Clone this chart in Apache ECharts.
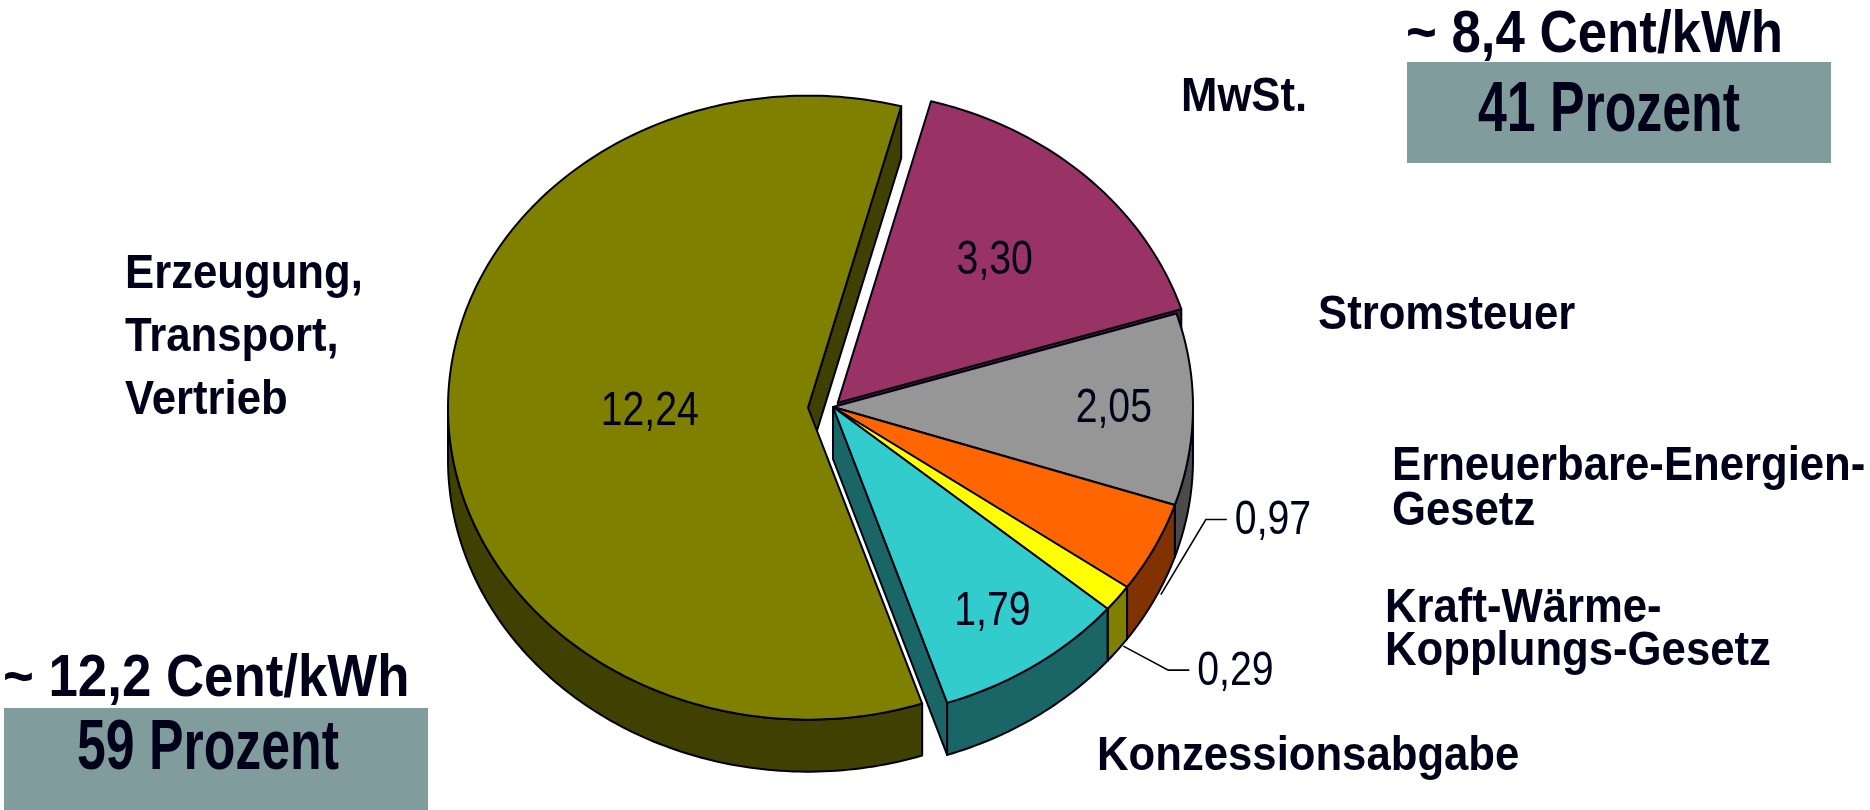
<!DOCTYPE html>
<html>
<head>
<meta charset="utf-8">
<script src="https://cdn.jsdelivr.net/npm/echarts@6/dist/echarts.min.js"></script>
<style>
html,body{margin:0;padding:0;background:#ffffff;}
#chart{width:1870px;height:810px;}
</style>
</head>
<body>
<div id="chart"></div>
<script>
// ---------- data ----------
const categories = ['MwSt.', 'Stromsteuer', 'Erneuerbare-Energien-\nGesetz', 'Kraft-Wärme-\nKopplungs-Gesetz', 'Konzessionsabgabe', 'Erzeugung,\nTransport,\nVertrieb'];
const values = [3.30, 2.05, 0.97, 0.29, 1.79, 12.24];
// which slices are taxes/levies (group 0) and which are supply costs (group 1)
const groupOf = [0, 0, 0, 0, 0, 1];
const unitLabel = 'Cent/kWh';
const percentWord = 'Prozent';

// ---------- style / layout ----------
const topColors = ['#993366', '#969696', '#FF6600', '#FFFF00', '#33CCCC', '#808000'];
const sideColors = ['#4d1a33', '#4b4b4b', '#803300', '#808000', '#1a6666', '#404000'];
const explode = [7, 0, 0, 0, 0, 25];
const labelRadius = [0.63, 0.78, null, null, 0.79, 0.44];
const outsideLabelOffset = [null, null, [45, -75], [45, 24], null, null];
const PIE = { cx: 833, cy: 407, rx: 360, ry: 312, depth: 52, startDeg: -75 };
const STROKE = '#00000f';
const TEXT = '#00001a';
const catLabelPos = [[1181, 98, 48], [1318, 316, 48], [1392, 489, 45], [1385, 630, 43], [1097, 757, 48], [125, 338, 63]];

const total = values.reduce((a, b) => a + b, 0);
const cum = [];
let acc = 0;
values.forEach(v => { cum.push(acc); acc += v; });

const fmt = (v, d) => v.toFixed(d).replace('.', ',');

function renderSlice(params, api) {
  const i = params.dataIndex;
  const v = api.value(1);
  const start = PIE.startDeg * Math.PI / 180;
  const a1 = start + cum[i] / total * 2 * Math.PI;
  const a2 = a1 + v / total * 2 * Math.PI;
  const mid = (a1 + a2) / 2;
  const ex = explode[i];
  const cx = PIE.cx + ex * Math.cos(mid);
  const cy = PIE.cy + ex * PIE.ry / PIE.rx * Math.sin(mid);
  const d = PIE.depth;
  const P = (a, k) => [cx + PIE.rx * (k || 1) * Math.cos(a), cy + PIE.ry * (k || 1) * Math.sin(a)];
  const arc = (s, e) => {
    const n = Math.max(2, Math.ceil(Math.abs(e - s) / (Math.PI / 180)));
    const out = [];
    for (let j = 0; j <= n; j++) out.push(P(s + (e - s) * j / n));
    return out;
  };
  const down = p => [p[0], p[1] + d];
  const ls = { stroke: STROKE, lineWidth: 2, lineJoin: 'round' };
  const children = [];
  if (Math.cos(a1) < 0) {
    const p = P(a1);
    children.push({ type: 'polygon', z2: 10, shape: { points: [[cx, cy], p, down(p), [cx, cy + d]] }, style: Object.assign({ fill: sideColors[i] }, ls) });
  }
  if (Math.cos(a2) > 0) {
    const p = P(a2);
    children.push({ type: 'polygon', z2: 10, shape: { points: [[cx, cy], p, down(p), [cx, cy + d]] }, style: Object.assign({ fill: sideColors[i] }, ls) });
  }
  const s = Math.max(a1, 0), e = Math.min(a2, Math.PI);
  if (e > s) {
    const top = arc(s, e);
    const bot = top.map(down).reverse();
    children.push({ type: 'polygon', z2: 20, shape: { points: top.concat(bot) }, style: Object.assign({ fill: sideColors[i] }, ls) });
  }
  children.push({ type: 'polygon', z2: 100, shape: { points: [[cx, cy]].concat(arc(a1, a2)) }, style: Object.assign({ fill: topColors[i] }, ls) });

  const valueText = fmt(v, 2);
  const textStyle = { text: valueText, fill: TEXT, fontSize: 49, fontFamily: 'Liberation Sans, Arial, sans-serif', verticalAlign: 'middle' };
  if (labelRadius[i] != null) {
    const lp = P(mid, labelRadius[i]);
    children.push({ type: 'text', z2: 200, x: lp[0], y: lp[1], scaleX: 0.8, style: Object.assign({ align: 'center' }, textStyle) });
  } else if (outsideLabelOffset[i]) {
    const o = outsideLabelOffset[i];
    const p = P(mid, 1.02);
    const anchor = [p[0], p[1] + d * 0.85];
    const elbow = [anchor[0] + o[0], anchor[1] + o[1]];
    const end = [elbow[0] + 21, elbow[1]];
    children.push({ type: 'polyline', z2: 150, shape: { points: [anchor, elbow, end] }, style: { stroke: STROKE, lineWidth: 1.6, fill: null } });
    children.push({ type: 'text', z2: 200, x: end[0] + 8, y: end[1] + 1, scaleX: 0.8, style: Object.assign({ align: 'left' }, textStyle) });
  }
  return { type: 'group', children };
}

// summary boxes
const sums = [0, 0];
values.forEach((v, i) => { sums[groupOf[i]] += v; });
const summaryTitle = sums.map(s => '~ ' + fmt(s, 1) + ' ' + unitLabel);
const summaryShare = sums.map(s => Math.round(s / total * 100) + ' ' + percentWord);

const boldFont = 'Liberation Sans, Arial, sans-serif';
const graphics = [];
categories.forEach((c, i) => {
  const p = catLabelPos[i];
  graphics.push({ type: 'text', x: p[0], y: p[1], scaleX: 0.91, z: 10, silent: true,
    style: { text: c, fill: TEXT, fontSize: 48, fontWeight: 'bold', fontFamily: boldFont, lineHeight: p[2], align: 'left', verticalAlign: 'middle' } });
});
// box for group 0 (top right) and group 1 (bottom left)
const boxLayout = [
  { rect: [1407, 62, 424, 101], title: [1406, 35], share: [1478, 112] },
  { rect: [4, 708, 424, 110], title: [3, 679], share: [77, 750] }
];
boxLayout.forEach((b, g) => {
  graphics.push({ type: 'rect', z: 5, silent: true, shape: { x: b.rect[0], y: b.rect[1], width: b.rect[2], height: b.rect[3] }, style: { fill: '#809c9c' } });
  graphics.push({ type: 'text', z: 10, silent: true, x: b.title[0], y: b.title[1], scaleX: 0.88,
    style: { text: summaryTitle[g], fill: TEXT, fontSize: 60, fontWeight: 'bold', fontFamily: boldFont, align: 'left', verticalAlign: 'middle' } });
  graphics.push({ type: 'text', z: 10, silent: true, x: b.share[0], y: b.share[1], scaleX: 0.74,
    style: { text: summaryShare[g], fill: TEXT, fontSize: 70, fontWeight: 'bold', fontFamily: boldFont, align: 'left', verticalAlign: 'middle' } });
});

const chart = echarts.init(document.getElementById('chart'), null, { renderer: 'canvas' });
chart.setOption({
  backgroundColor: '#ffffff',
  animation: false,
  graphic: graphics,
  series: [{
    type: 'custom',
    coordinateSystem: 'none',
    silent: true,
    data: values.map((v, i) => ({ name: categories[i], value: [i, v] })),
    renderItem: renderSlice
  }]
});
</script>
</body>
</html>
